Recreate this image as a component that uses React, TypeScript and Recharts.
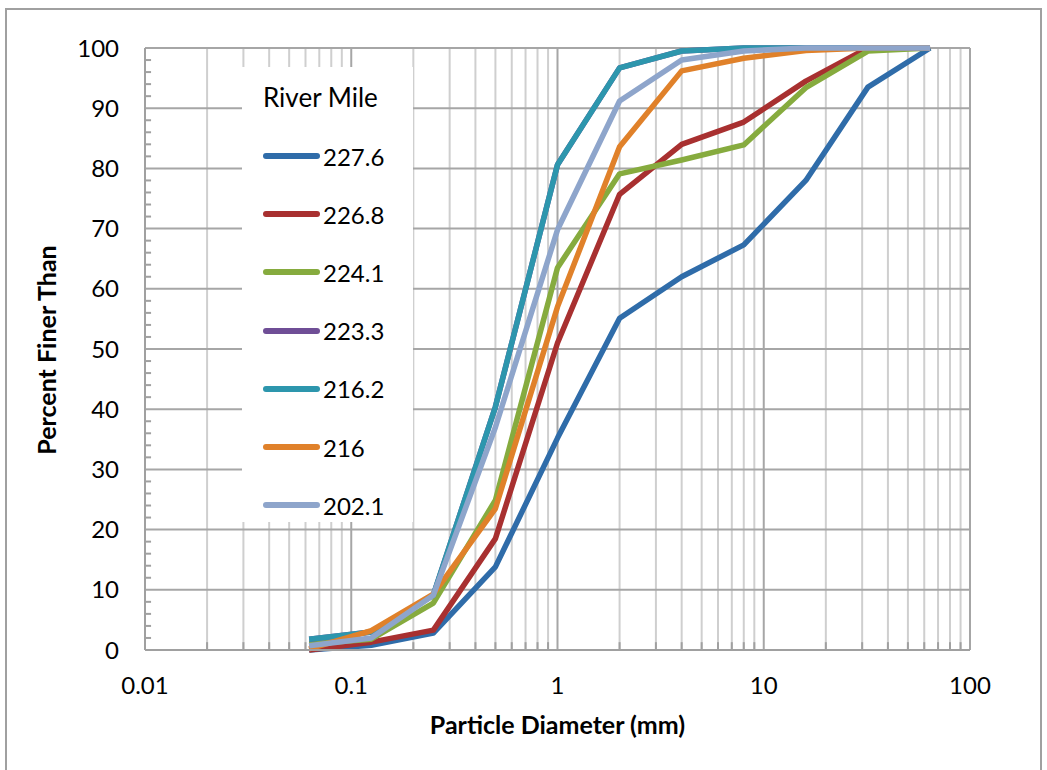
import React from "react"
import { LineChart, Line, XAxis, YAxis, ReferenceLine, Legend, Label } from "recharts"

// sieve sizes (mm)
const diameters = [0.0625, 0.125, 0.25, 0.5, 1, 2, 4, 8, 16, 32, 64]

// percent finer by river mile
const rm2276 = [0, 0.8, 2.8, 13.8, 35.2, 55.1, 62, 67.3, 78, 93.5, 100]
const rm2268 = [0, 1.3, 3.3, 18.5, 51, 75.7, 84, 87.7, 94.5, 100, 100]
const rm2241 = [1, 1.8, 7.8, 24.9, 63.5, 79.1, 81.4, 83.9, 93.4, 99.5, 100]
const rm2233 = [1.8, 3, 9.1, 40.4, 80.6, 96.7, 99.5, 100, 100, 100, 100]
const rm2162 = [1.8, 3, 9.1, 40.4, 80.6, 96.7, 99.5, 100, 100, 100, 100]
const rm216 = [0.2, 3.2, 9.3, 23.5, 57, 83.6, 96.2, 98.3, 99.6, 100, 100]
const rm2021 = [0.7, 2, 9.1, 37, 69.8, 91.2, 98, 99.5, 100, 100, 100]

const seriesNames = ["227.6", "226.8", "224.1", "223.3", "216.2", "216", "202.1"]
const seriesValues = [rm2276, rm2268, rm2241, rm2233, rm2162, rm216, rm2021]
const seriesColors = ["#2f6ca9", "#a83030", "#86ab3e", "#6f4e96", "#2d96ad", "#e0812a", "#8ea5cb"]

const xTicks = [0.01, 0.1, 1, 10, 100]
const yTicks = [0, 10, 20, 30, 40, 50, 60, 70, 80, 90, 100]
const yMinorTicks = [2, 4, 6, 8, 12, 14, 16, 18, 22, 24, 26, 28, 32, 34, 36, 38, 42, 44, 46, 48, 52, 54, 56, 58, 62, 64, 66, 68, 72, 74, 76, 78, 82, 84, 86, 88, 92, 94, 96, 98]
const xMinorTicks = [
  0.02, 0.03, 0.04, 0.05, 0.06, 0.07, 0.08, 0.09,
  0.2, 0.3, 0.4, 0.5, 0.6, 0.7, 0.8, 0.9,
  2, 3, 4, 5, 6, 7, 8, 9,
  20, 30, 40, 50, 60, 70, 80, 90,
]

const data = diameters.map((d, i) => {
  const row: Record<string, number> = { d }
  seriesNames.forEach((n, s) => {
    row[n] = seriesValues[s][i]
  })
  return row
})

const font = "Lato, 'Open Sans', sans-serif"

function RiverLegend() {
  return (
    <div style={{ fontFamily: font, fontSize: 24, color: "#000", paddingLeft: 21 }}>
      <div style={{ height: 60, lineHeight: "60px", fontSize: 26 }}>River Mile</div>
      {seriesNames.map((n, i) => (
        <div key={n} style={{ height: 58.2, display: "flex", alignItems: "center" }}>
          <span style={{ display: "inline-block", width: 57, height: 6, borderRadius: 3, background: seriesColors[i], marginRight: 3 }} />
          <span>{n}</span>
        </div>
      ))}
    </div>
  )
}

export default function App() {
  return (
    <div style={{ position: "absolute", left: 0, top: 0, width: 1047, height: 770, background: "#fff" }}>
      <div style={{ position: "absolute", left: 5, top: 8, width: 1033, height: 762, border: "2px solid #a0a0a0", borderBottom: "none" }} />
      <LineChart width={1047} height={770} data={data} margin={{ top: 48, right: 77, left: 65, bottom: 50 }}>
        {xMinorTicks.map((v) => (
          <ReferenceLine key={"gx" + v} x={v} stroke="#cfcfcf" strokeWidth={2} />
        ))}
        {xTicks.map((v) => (
          <ReferenceLine key={"gX" + v} x={v} stroke="#a6a6a6" strokeWidth={2} />
        ))}
        {yTicks.map((v) => (
          <ReferenceLine key={"gy" + v} y={v} stroke="#a6a6a6" strokeWidth={2} />
        ))}
        {yMinorTicks.map((v) => (
          <ReferenceLine key={"ty" + v} segment={[{ x: 0.01, y: v }, { x: 0.0107, y: v }]} stroke="#a0a0a0" strokeWidth={2} />
        ))}
        {xMinorTicks.map((v) => (
          <ReferenceLine key={"tx" + v} segment={[{ x: v, y: 0 }, { x: v, y: 1.3 }]} stroke="#a0a0a0" strokeWidth={2} />
        ))}
        <XAxis
          dataKey="d"
          type="number"
          scale="log"
          domain={[0.01, 100]}
          allowDataOverflow
          ticks={xTicks}
          tickLine={false}
          tickSize={0}
          tickMargin={27}
          height={70}
          axisLine={{ stroke: "#a0a0a0", strokeWidth: 2 }}
          tick={{ fill: "#000", fontSize: 24, fontFamily: font }}
        >
          <Label
            content={({ viewBox }: any) => (
              <text x={viewBox.x + viewBox.width / 2} y={734} textAnchor="middle" fontFamily={font} fontSize={25} fontWeight="bold" fill="#000">
                Particle Diameter (mm)
              </text>
            )}
          />
        </XAxis>
        <YAxis
          type="number"
          domain={[0, 100]}
          ticks={yTicks}
          width={80}
          tickLine={false}
          tickSize={0}
          tickMargin={26}
          axisLine={{ stroke: "#a0a0a0", strokeWidth: 2 }}
          tick={{ fill: "#000", fontSize: 24, fontFamily: font }}
        >
          <Label
            content={() => (
              <text x={56} y={350} transform="rotate(-90 56 350)" textAnchor="middle" fontFamily={font} fontSize={25} fontWeight="bold" fill="#000">
                Percent Finer Than
              </text>
            )}
          />
        </YAxis>
        {seriesNames.map((n, i) => (
          <Line
            key={n}
            dataKey={n}
            stroke={seriesColors[i]}
            strokeWidth={5.5}
            strokeLinejoin="round"
            dot={false}
            activeDot={false}
            isAnimationActive={false}
          />
        ))}
        <Legend
          layout="vertical"
          align="center"
          verticalAlign="middle"
          wrapperStyle={{ position: "absolute", left: 242, top: 67, width: 171, height: 455, background: "#fff" }}
          content={() => <RiverLegend />}
        />
      </LineChart>
    </div>
  )
}
